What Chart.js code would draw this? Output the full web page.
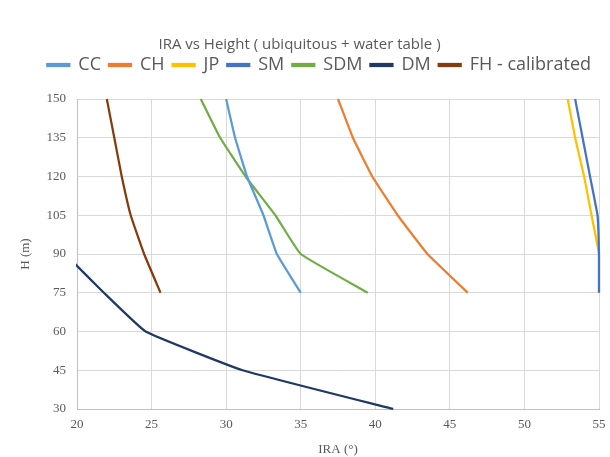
<!DOCTYPE html>
<html>
<head>
<meta charset="utf-8">
<script src="https://cdn.jsdelivr.net/npm/chart.js@4.4.0/dist/chart.umd.min.js"></script>
<style>
  html, body { margin: 0; padding: 0; background: #fff; }
  #wrap { width: 610px; height: 457px; }
</style>
</head>
<body>
<div id="wrap"><canvas id="ira-chart" width="610" height="457"></canvas></div>
<script>
// IRA vs Height
const heights = [150, 135, 120, 105, 90, 75];
const heightsDM = [90, 75, 60, 45, 30];

const ccIRA  = [30.0, 30.6, 31.4, 32.5, 33.4, 35.0];
const chIRA  = [37.5, 38.5, 39.8, 41.5, 43.5, 46.2];
const jpIRA  = [52.9, 53.4, 54.0, 54.5, 55.0, 55.0];
const smIRA  = [53.4, 53.9, 54.4, 54.9, 55.0, 55.0];
const sdmIRA = [28.3, 29.6, 31.3, 33.3, 35.0, 39.5];
const dmIRA  = [19.2, 21.8, 24.6, 31.1, 41.2];
const fhIRA  = [22.0, 22.5, 23.0, 23.6, 24.5, 25.6];

const xTicks = [20, 25, 30, 35, 40, 45, 50, 55];
const yTicks = [30, 45, 60, 75, 90, 105, 120, 135, 150];

function pts(xs, hs) {
  return xs.map((v, i) => ({ x: v, y: hs[i] }));
}

function series(label, xs, hs, color, order) {
  return {
    label: label,
    data: pts(xs, hs),
    borderColor: color,
    backgroundColor: color,
    borderWidth: 2.25,
    pointRadius: 0,
    tension: 0.1,
    clip: { left: 1, right: 3, top: 3, bottom: 3 },
    order: order
  };
}

const grey = '#595959';
const serif = '"Liberation Serif", "DejaVu Serif", serif';
const sans = '"Open Sans", "Noto Sans", sans-serif';

// push the plot down a bit below the legend
const legendGap = {
  id: 'legendGap',
  afterInit(chart) {
    const fit = chart.legend.fit;
    chart.legend.fit = function () {
      fit.call(this);
      this.height += 15;
    };
  }
};

new Chart(document.getElementById('ira-chart'), {
  type: 'line',
  plugins: [legendGap],
  data: {
    datasets: [
      series('CC', ccIRA, heights, '#5b9bd5', 2),
      series('CH', chIRA, heights, '#ed7d31', 3),
      series('JP', jpIRA, heights, '#ffc000', 4),
      series('SM', smIRA, heights, '#4472c4', 1),
      series('SDM', sdmIRA, heights, '#70ad47', 5),
      series('DM', dmIRA, heightsDM, '#203864', 6),
      series('FH - calibrated', fhIRA, heights, '#843c0c', 7)
    ]
  },
  options: {
    responsive: false,
    animation: false,
    layout: { padding: { top: 36, right: 11, left: 0, bottom: 0 } },
    plugins: {
      title: {
        display: true,
        text: 'IRA vs Height ( ubiquitous + water table )',
        color: grey,
        font: { family: sans, size: 15, weight: 'normal' },
        padding: { top: 0, bottom: -6 }
      },
      legend: {
        position: 'top',
        align: 'end',
        labels: {
          color: grey,
          font: { family: sans, size: 18 },
          boxWidth: 22,
          boxHeight: 2,
          padding: 8,
          sort: (a, b) => a.datasetIndex - b.datasetIndex
        }
      },
      tooltip: { enabled: false }
    },
    scales: {
      x: {
        type: 'linear',
        position: 'bottom',
        min: 20,
        max: 55,
        afterBuildTicks: (s) => { s.ticks = xTicks.map(v => ({ value: v })); },
        afterFit: (s) => { s.height = 48; s.paddingRight = 0; },
        grid: { color: '#d9d9d9', drawTicks: false },
        border: { color: '#bfbfbf' },
        ticks: { color: grey, font: { family: serif, size: 13 }, padding: 8 },
        title: { display: true, text: 'IRA (°)', color: grey, font: { family: serif, size: 13 }, padding: { top: 2, bottom: 0 } }
      },
      y: {
        type: 'linear',
        position: 'left',
        min: 30,
        max: 150,
        afterBuildTicks: (s) => { s.ticks = yTicks.map(v => ({ value: v })); },
        afterFit: (s) => { s.width = 77; },
        grid: { color: '#d9d9d9', drawTicks: false },
        border: { color: '#bfbfbf' },
        ticks: { color: grey, font: { family: serif, size: 13 }, padding: 11 },
        title: { display: true, text: 'H (m)', color: grey, font: { family: serif, size: 13 }, padding: { top: 18, bottom: 0 } }
      }
    }
  }
});
</script>
</body>
</html>
